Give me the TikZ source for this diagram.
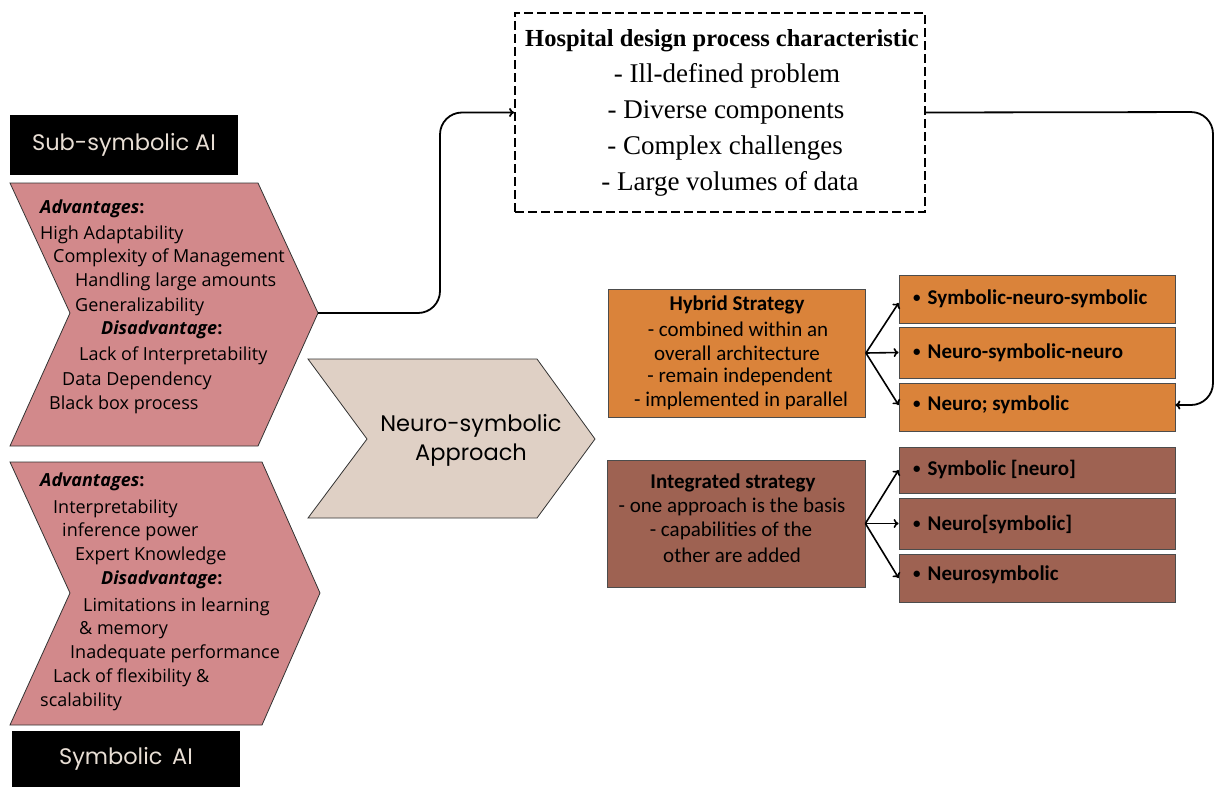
\documentclass[tikz,border=0pt]{standalone}
\usepackage{fontspec}
\setmainfont{Open Sans}
\newfontfamily\boxfont{Carlito}
\newfontfamily\headfont{Poppins}
\newfontfamily\seriffont{Liberation Serif}
\usetikzlibrary{arrows.meta,calc}
\definecolor{pinkc}{RGB}{210,137,139}
\definecolor{orangec}{RGB}{218,131,58}
\definecolor{brownc}{RGB}{158,98,82}
\definecolor{beigec}{RGB}{223,208,197}
\definecolor{lighttxt}{RGB}{232,222,212}
\newcommand{\smbul}{\raisebox{1.8pt}{\fontsize{15}{15}\selectfont\textbullet}\hspace{7pt}}
\begin{document}
\begin{tikzpicture}[x=1pt,y=-1pt,
  chev/.style={draw=black!80, line width=0.8pt},
  ltxt/.style={anchor=west, inner sep=0pt, font=\fontsize{18}{21}\selectfont},
  lbold/.style={ltxt, font=\fontsize{18}{21}\selectfont\bfseries\itshape},
  headbox/.style={fill=black, text=lighttxt, minimum width=228pt, minimum height=60pt, inner sep=0pt, font=\headfont\fontsize{22.5}{26}\selectfont},
  stratbox/.style={draw=black!70, line width=0.8pt, minimum width=257pt, minimum height=128pt, inner sep=0pt},
  stxt/.style={inner sep=0pt, font=\boxfont\fontsize{21}{24}\selectfont},
  sbold/.style={stxt, font=\boxfont\fontsize{21}{24}\selectfont\bfseries},
  itembox/.style={draw=black!70, line width=0.8pt, minimum width=276pt, inner sep=0pt},
  itxt/.style={anchor=west, inner sep=0pt, font=\boxfont\fontsize{21}{24}\selectfont\bfseries},
  htxt/.style={inner sep=0pt, font=\seriffont\fontsize{27}{30}\selectfont},
  conn/.style={line width=1.8pt, rounded corners=22pt, -{To[length=5pt,width=9pt]}},
  fan/.style={line width=1.6pt, -{To[length=5pt,width=9pt]}}
]
\useasboundingbox (0,0) rectangle (1214,787);

% header boxes
\node[headbox] (subh) at (124,145) {Sub-symbolic AI};
\node[headbox, minimum height=56pt] (symh) at (126,759) {Symbolic\, AI};

% chevrons
\draw[chev, fill=pinkc] (10,183) -- (258,183) -- (318,313) coordinate (tipA) -- (258,446) -- (10,446) -- (70,313) -- cycle;
\draw[chev, fill=pinkc] (10,462) -- (262,462) -- (320,593) coordinate (tipB) -- (262,725) -- (10,725) -- (70,593) -- cycle;
\draw[chev, fill=beigec] (308,359) -- (537,359) -- (595,439) coordinate (tipC) -- (537,518) -- (308,518) -- (367,439) -- cycle;
\node[inner sep=0pt, align=center, font=\headfont\fontsize{22.5}{29}\selectfont] (ns) at (471,440) {Neuro-symbolic\\Approach};

% top chevron text
\node[lbold] (a1) at (40,209) {Advantages\textup{:}};
\node[ltxt] (a2) at (40,235) {High Adaptability};
\node[ltxt] (a3) at (53,258) {Complexity of Management};
\node[ltxt] (a4) at (75,282) {Handling large amounts};
\node[ltxt] (a5) at (75,307) {Generalizability};
\node[lbold] (a6) at (101,330) {Disadvantage\textup{:}};
\node[ltxt] (a7) at (79,356) {Lack of Interpretability};
\node[ltxt] (a8) at (62,381) {Data Dependency};
\node[ltxt] (a9) at (49,405) {Black box process};

% bottom chevron text
\node[lbold] (b1) at (40,482) {Advantages\textup{:}};
\node[ltxt] (b2) at (53,509) {Interpretability};
\node[ltxt] (b3) at (62,532) {inference power};
\node[ltxt] (b4) at (75,556) {Expert Knowledge};
\node[lbold] (b5) at (101,580) {Disadvantage\textup{:}};
\node[ltxt] (b6) at (83,607) {Limitations in learning};
\node[ltxt] (b7) at (79,630) {\& memory};
\node[ltxt] (b8) at (70,654) {Inadequate performance};
\node[ltxt] (b9) at (53,678) {Lack of flexibility \&};
\node[ltxt] (b10) at (40,702) {scalability};

% hospital box
\node[draw, line width=1.8pt, dash pattern=on 9pt off 4pt, minimum width=410pt, minimum height=199pt, inner sep=0pt] (hosp) at (720,112.5) {};
\node[htxt, font=\seriffont\fontsize{24.5}{28}\selectfont\bfseries] (h0) at (722,41) {Hospital design process characteristic};
\node[htxt] (h1) at (727,76) {- Ill-defined problem};
\node[htxt] (h2) at (726,112) {- Diverse components};
\node[htxt] (h3) at (725,148) {- Complex challenges};
\node[htxt] (h4) at (730,184) {- Large volumes of data};

% strategy boxes
\node[stratbox, fill=orangec] (hyb) at (737,353) {};
\node[sbold] (hy0) at (737,305) {Hybrid Strategy};
\node[stxt] (hy1) at (738,329) {- combined within an};
\node[stxt] (hy2) at (737,353) {overall architecture};
\node[stxt] (hy3) at (740,377) {- remain independent};
\node[stxt] (hy4) at (741,401) {- implemented in parallel};

\node[stratbox, fill=brownc, minimum width=258pt, minimum height=127pt] (int) at (736,523.5) {};
\node[sbold] (in0) at (733,483) {Integrated strategy};
\node[stxt] (in1) at (732,507) {- one approach is the basis};
\node[stxt] (in2) at (731,531) {- capabilities of the};
\node[stxt] (in3) at (732,555) {other are added};

% item boxes
\node[itembox, fill=orangec, minimum height=48pt] (r1) at (1037,299) {};
\node[itembox, fill=orangec, minimum height=51pt] (r2) at (1037,352.5) {};
\node[itembox, fill=orangec, minimum height=48pt] (r3) at (1037,407) {};
\node[itembox, fill=brownc, minimum height=46pt] (r4) at (1037,470) {};
\node[itembox, fill=brownc, minimum height=51pt] (r5) at (1037,523.5) {};
\node[itembox, fill=brownc, minimum height=48pt] (r6) at (1037,578) {};
\node[itxt] (t1) at (913,299) {\smbul Symbolic-neuro-symbolic};
\node[itxt] (t2) at (913,353) {\smbul Neuro-symbolic-neuro};
\node[itxt] (t3) at (913,405) {\smbul Neuro; symbolic};
\node[itxt] (t4) at (913,469) {\smbul Symbolic [neuro]};
\node[itxt] (t5) at (913,524) {\smbul Neuro[symbolic]};
\node[itxt] (t6) at (913,575) {\smbul Neurosymbolic};

% connectors
\coordinate (c1) at (440,313);
\coordinate (c2) at (1213,112);
\draw[conn] (tipA) -- (c1) |- (hosp.west);
\draw[conn] (hosp.east) -- (c2) |- ([yshift=2pt]r3.east);

\draw[fan] (hyb.east) -- ([yshift=-4pt]r1.west);
\draw[fan] (hyb.east) -- (r2.west);
\draw[fan] (hyb.east) -- ([yshift=2pt]r3.west);
\draw[fan] (int.east) -- (r4.west);
\draw[fan] (int.east) -- (r5.west);
\draw[fan] (int.east) -- (r6.west);
\end{tikzpicture}
\end{document}
